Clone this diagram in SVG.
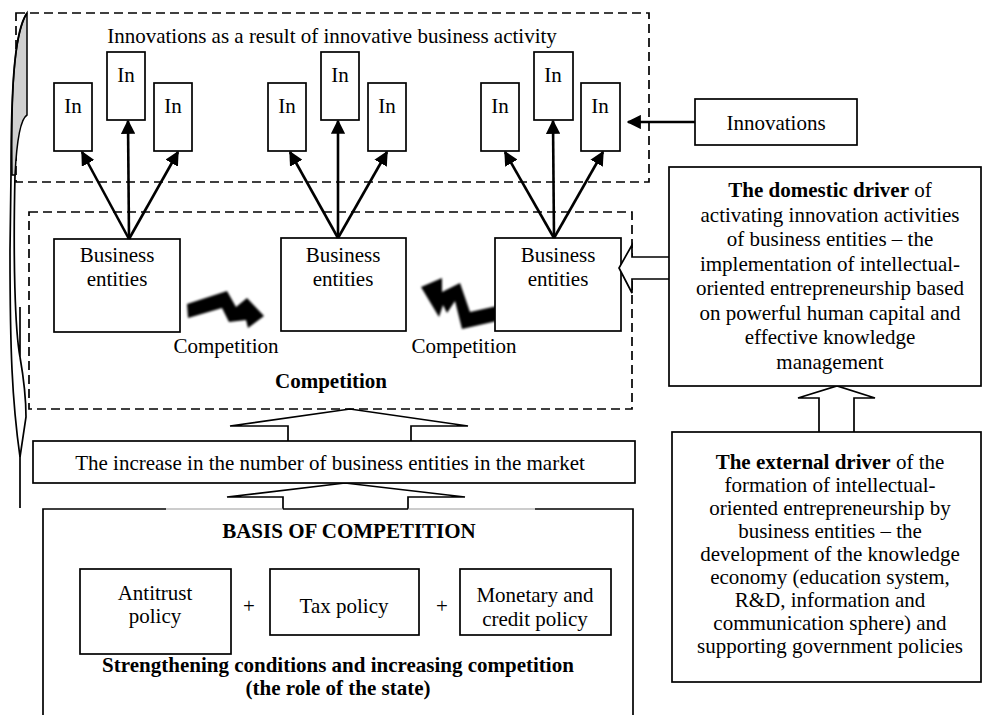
<svg xmlns="http://www.w3.org/2000/svg" width="983" height="715" viewBox="0 0 983 715">
<style>
.t{font-family:"Liberation Serif","Times New Roman",serif;font-size:21px;fill:#000;text-anchor:middle}
.b{font-weight:bold}
.box{fill:#fff;stroke:#000;stroke-width:1.7}
.dash{fill:none;stroke:#000;stroke-width:1.7;stroke-dasharray:9 5}
.ln{fill:none;stroke:#000;stroke-width:1.7}
.arr{stroke:#000;stroke-width:2.6;fill:none;marker-end:url(#ah)}
.hol{fill:#fff;stroke:#000;stroke-width:1.7;stroke-linejoin:miter}
.bolt{fill:#000;filter:url(#blur)}
</style>
<defs>
<marker id="ah" viewBox="0 0 10 10" refX="9" refY="5" markerWidth="5.5" markerHeight="5.5" orient="auto" markerUnits="strokeWidth">
<path d="M0,0 L10,5 L0,10 Z" fill="#000"/>
</marker>
<filter id="blur" x="-20%" y="-20%" width="140%" height="140%"><feGaussianBlur stdDeviation="0.9"/></filter>
</defs>
<rect width="983" height="715" fill="#fff"/>

<g id="innovations-area">
<rect class="dash" x="16" y="13" width="633" height="169"/>
<text class="t" x="332" y="43">Innovations as a result of innovative business activity</text>
</g>

<g id="competition-area">
<rect class="dash" x="29" y="212" width="603" height="197"/>
<text class="t b" x="331" y="388">Competition</text>
</g>

<g id="brace">
<path d="M27,13 L27,115 C22,118 17,135 15,175 L12,175 C11,100 13,35 27,13 Z" fill="#d0d0d0" stroke="#000" stroke-width="1.5"/>
<path class="ln" d="M27,13 C15,30 11,80 11,175 L10,250 C10,350 12,400 20,457 L20,508"/>
<path class="ln" d="M15,175 C13,260 15,330 20,357 L20,307"/>
<path class="ln" d="M20,357 C24,380 26,405 26,417 L20,457"/>
</g>

<g id="in-boxes">
<rect class="box" x="54" y="83" width="38" height="68"/><text class="t" x="73" y="113">In</text>
<rect class="box" x="107" y="52" width="38" height="68"/><text class="t" x="126" y="82">In</text>
<rect class="box" x="154" y="83" width="38" height="68"/><text class="t" x="173" y="113">In</text>
<rect class="box" x="268" y="83" width="38" height="68"/><text class="t" x="287" y="113">In</text>
<rect class="box" x="321" y="52" width="38" height="68"/><text class="t" x="340" y="82">In</text>
<rect class="box" x="368" y="83" width="38" height="68"/><text class="t" x="387" y="113">In</text>
<rect class="box" x="481" y="83" width="38" height="68"/><text class="t" x="500" y="113">In</text>
<rect class="box" x="534" y="52" width="39" height="68"/><text class="t" x="553" y="82">In</text>
<rect class="box" x="581" y="83" width="39" height="68"/><text class="t" x="600" y="113">In</text>
</g>

<g id="innovations-node">
<rect class="box" x="695" y="99" width="162" height="46"/>
<text class="t" x="776" y="130">Innovations</text>
</g>

<g id="business-1">
<rect class="box" x="54" y="239" width="126" height="93"/>
<text class="t" x="117" y="262">Business</text>
<text class="t" x="117" y="286">entities</text>
</g>
<g id="business-2">
<rect class="box" x="281" y="238" width="125" height="93"/>
<text class="t" x="343" y="262">Business</text>
<text class="t" x="343" y="286">entities</text>
</g>

<g id="bolts">
<polygon class="bolt" points="187,304 227,291 236,307 247,298 264,316 248,328 246,320 229,322 222,308 188,318"/>
<polygon class="bolt" points="421,287 442,278 442,292 460,283 470,312 497,306 497,321 462,329 455,301 447,313 443,305 439,317"/>
</g>

<g id="business-3">
<rect class="box" x="495" y="238" width="126" height="93"/>
<text class="t" x="558" y="262">Business</text>
<text class="t" x="558" y="286">entities</text>
</g>

<g id="competition-labels">
<text class="t" x="226" y="353">Competition</text>
<text class="t" x="464" y="353">Competition</text>
</g>

<g id="connectors">
<line class="arr" x1="129" y1="239" x2="82" y2="152"/>
<line class="arr" x1="129" y1="239" x2="128" y2="121"/>
<line class="arr" x1="129" y1="239" x2="178" y2="152"/>
<line class="arr" x1="338" y1="238" x2="290" y2="152"/>
<line class="arr" x1="338" y1="238" x2="338" y2="121"/>
<line class="arr" x1="338" y1="238" x2="387" y2="152"/>
<line class="arr" x1="554" y1="238" x2="505" y2="152"/>
<line class="arr" x1="554" y1="238" x2="553" y2="121"/>
<line class="arr" x1="554" y1="238" x2="603" y2="152"/>
<line class="arr" x1="695" y1="122" x2="628" y2="122"/>
<polyline class="hol" points="288,441 288,426 230,426 350,409 468,426 411,426 411,441"/>
<polyline class="hol" points="283,509 283,497 227,497 345,483 465,497 408,497 408,509"/>
<polyline class="hol" points="669,257 632,257 632,245 619,268 632,293 632,279 669,279"/>
<polyline class="hol" points="819,433 819,398 798,398 837,386 875,398 854,398 854,433"/>
</g>

<g id="increase">
<rect class="box" x="33" y="441" width="602" height="42"/>
<text class="t" x="330" y="470">The increase in the number of business entities in the market</text>
</g>

<g id="domestic-driver">
<rect class="box" x="669" y="167" width="312" height="219"/>
<text class="t" x="830" y="197"><tspan class="b">The domestic driver</tspan> of</text>
<text class="t" x="830" y="221.5">activating innovation activities</text>
<text class="t" x="830" y="246">of business entities – the</text>
<text class="t" x="830" y="270.5">implementation of intellectual-</text>
<text class="t" x="830" y="295">oriented entrepreneurship based</text>
<text class="t" x="830" y="319.5">on powerful human capital and</text>
<text class="t" x="830" y="344">effective knowledge</text>
<text class="t" x="830" y="368.5">management</text>
</g>

<g id="external-driver">
<rect class="box" x="672" y="432" width="309" height="250"/>
<text class="t" x="830" y="469"><tspan class="b">The external driver</tspan> of the</text>
<text class="t" x="830" y="492">formation of intellectual-</text>
<text class="t" x="830" y="515">oriented entrepreneurship by</text>
<text class="t" x="830" y="538">business entities – the</text>
<text class="t" x="830" y="561">development of the knowledge</text>
<text class="t" x="830" y="584">economy (education system,</text>
<text class="t" x="830" y="607">R&amp;D, information and</text>
<text class="t" x="830" y="630">communication sphere) and</text>
<text class="t" x="830" y="653">supporting government policies</text>
</g>

<g id="basis">
<path class="ln" d="M43,720 L43,509 L166,509 M283,509 L408,509 M535,509 L633,509 L633,720"/>
<path d="M166,509 L283,509 M408,509 L535,509" stroke="#999" stroke-width="1" fill="none"/>
<text class="t b" x="349" y="538">BASIS OF COMPETITION</text>
<text class="t b" x="338" y="672">Strengthening conditions and increasing competition</text>
<text class="t b" x="338" y="695">(the role of the state)</text>
</g>
<g id="antitrust">
<rect class="box" x="80" y="569" width="151" height="85"/>
<text class="t" x="155" y="600">Antitrust</text>
<text class="t" x="155" y="623">policy</text>
</g>
<text class="t" x="249" y="613">+</text>
<g id="tax">
<rect class="box" x="270" y="569" width="149" height="66"/>
<text class="t" x="344" y="613">Tax policy</text>
</g>
<text class="t" x="442" y="613">+</text>
<g id="monetary">
<rect class="box" x="460" y="569" width="151" height="66"/>
<text class="t" x="535" y="602">Monetary and</text>
<text class="t" x="535" y="626">credit policy</text>
</g>
</svg>
